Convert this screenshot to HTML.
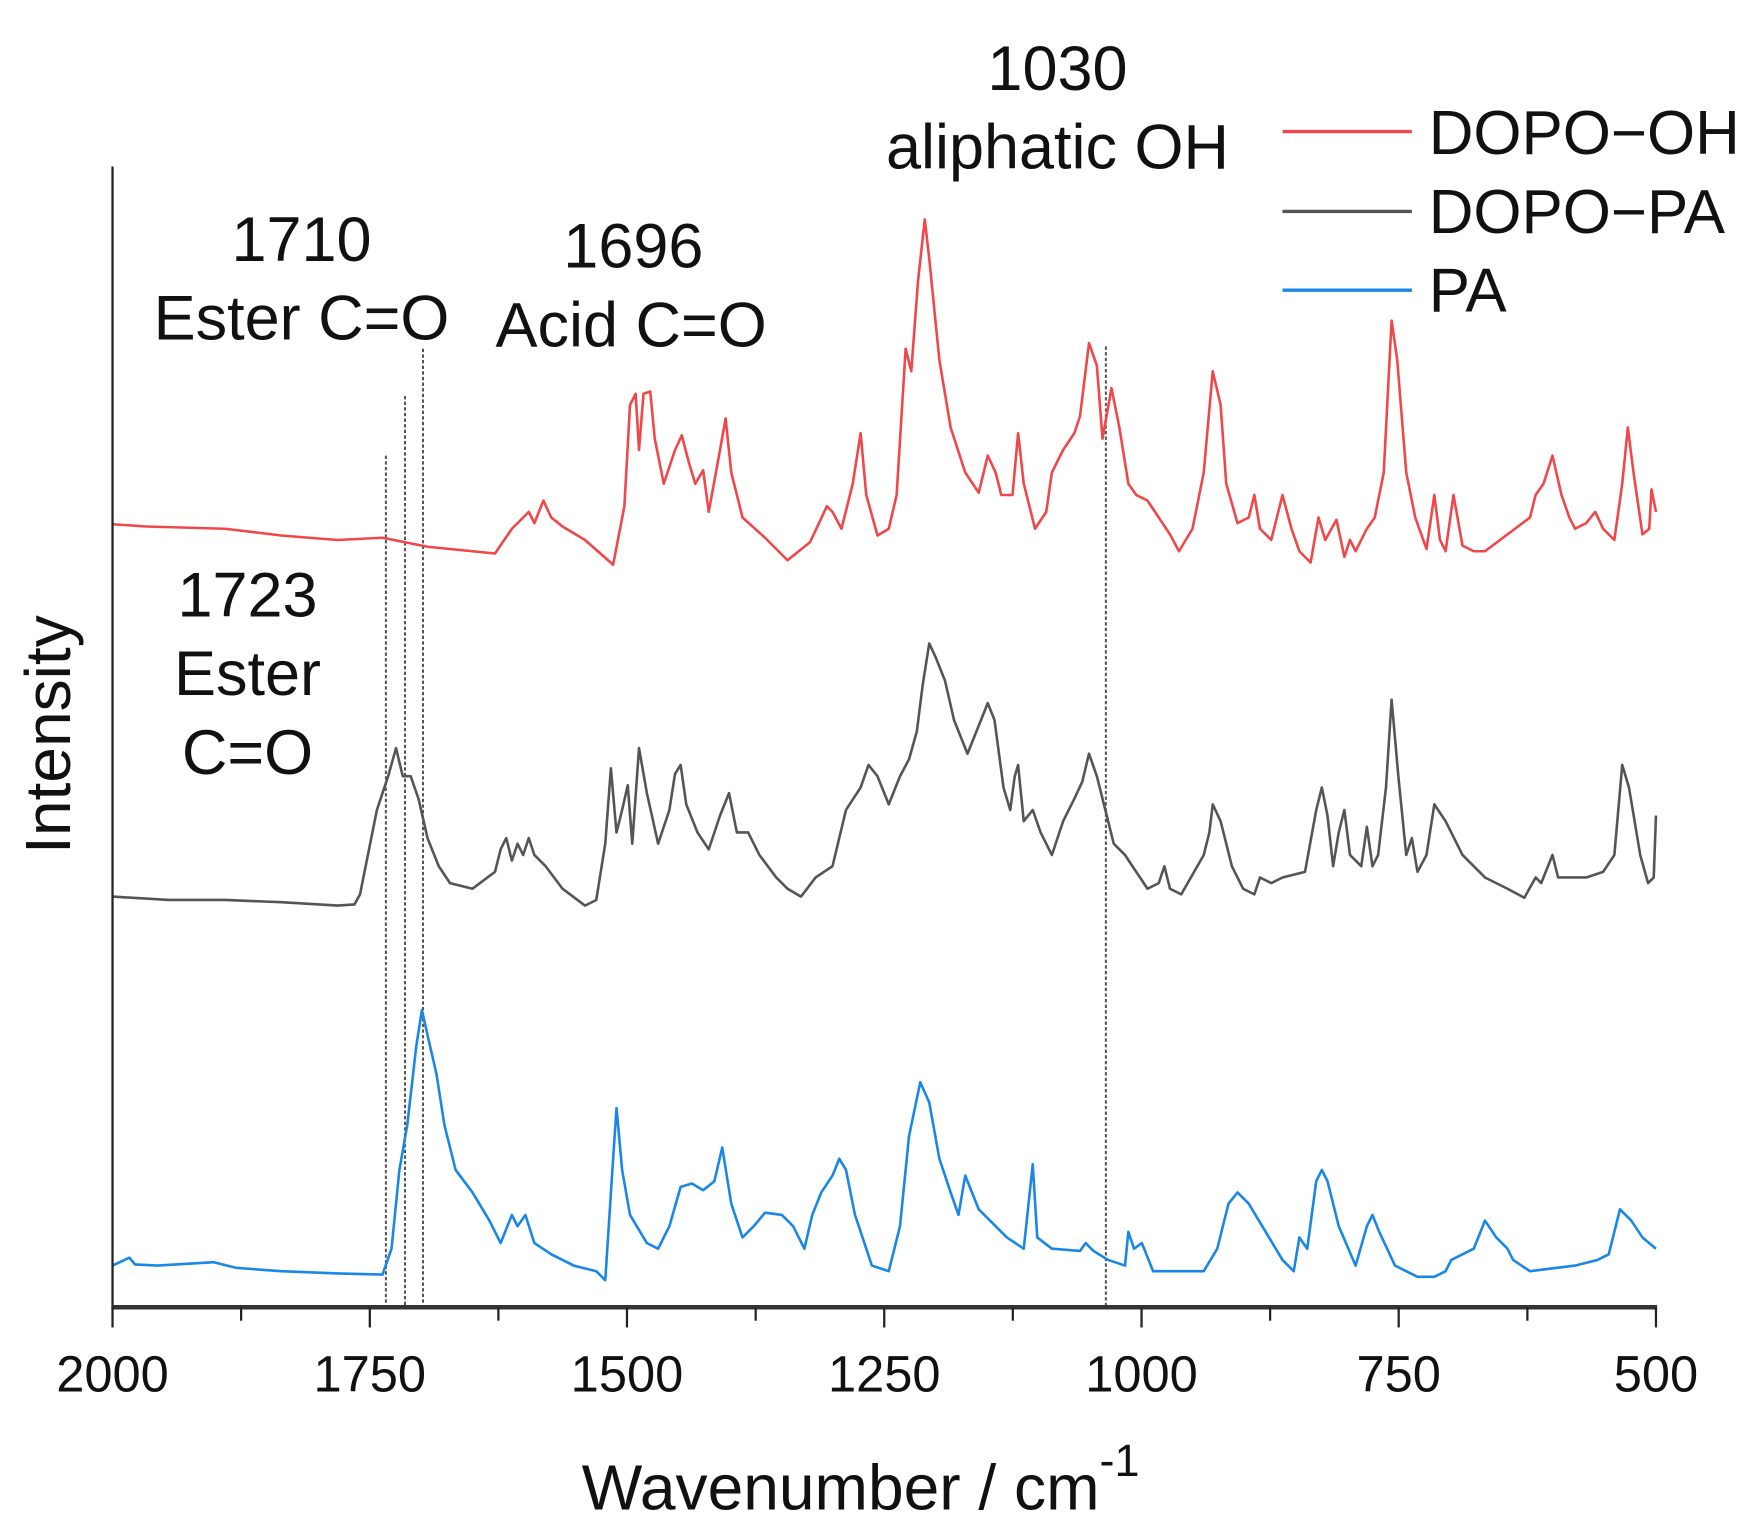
<!DOCTYPE html>
<html><head><meta charset="utf-8"><style>
html,body{margin:0;padding:0;background:#fff;}
svg{display:block;}
text{font-family:"Liberation Sans",Arial,sans-serif;fill:#111;}
</style></head><body>
<svg width="1755" height="1525" viewBox="0 0 1560 1355.6" xmlns="http://www.w3.org/2000/svg">
<g stroke="#555" stroke-width="1.8" stroke-dasharray="3,2" fill="none">
<line x1="343" y1="405" x2="343" y2="1160"/>
<line x1="360" y1="352" x2="360" y2="1160"/>
<line x1="376" y1="310" x2="376" y2="1160"/>
<line x1="983" y1="308" x2="983" y2="1160"/>
</g>
<polyline fill="none" stroke="#f0474a" stroke-width="2.3" stroke-linejoin="round" points="100,466 130,468 200,470 250,476 300,480 340,478 380,486 440,492 455,470 465,460 470,455 475,465 483,445 490,460 500,468 520,480 545,502 555,450 560,360 565,350 568,400 572,350 578,348 582,390 590,430 600,400 606,387 612,410 618,430 625,418 630,455 640,400 645,372 650,420 660,460 680,478 700,498 720,482 735,450 740,455 748,470 758,430 765,385 770,440 780,476 790,470 797,440 805,310 810,330 816,250 822,195 826,230 835,320 845,380 858,420 870,438 878,405 885,420 890,440 900,440 905,385 910,430 920,470 930,455 935,420 945,400 955,385 960,370 968,305 975,325 980,390 988,345 995,380 1003,430 1010,440 1020,445 1040,475 1048,490 1060,470 1070,420 1078,330 1085,360 1090,430 1100,465 1110,460 1115,440 1120,470 1130,480 1140,440 1148,470 1155,490 1165,500 1172,460 1178,480 1188,462 1195,495 1200,480 1205,490 1215,470 1222,460 1230,420 1237,285 1242,320 1250,420 1258,460 1268,488 1275,440 1280,480 1285,490 1292,440 1300,485 1310,490 1320,490 1340,475 1360,460 1365,440 1372,430 1380,405 1388,440 1395,460 1400,470 1410,465 1418,455 1425,470 1435,480 1442,430 1447,380 1452,420 1460,475 1466,470 1468,435 1472,455"/>
<polyline fill="none" stroke="#555" stroke-width="2.3" stroke-linejoin="round" points="100,797 150,800 200,800 250,802 300,805 315,804 320,795 325,770 335,720 345,690 352,665 358,690 365,690 372,710 380,745 390,770 400,785 420,790 440,775 445,755 450,745 455,765 460,750 465,760 470,745 475,760 485,770 500,790 520,805 530,800 538,750 543,683 548,740 553,720 558,698 562,750 568,665 575,705 585,750 595,720 600,688 605,680 610,715 620,740 630,755 640,725 648,705 655,740 665,740 675,760 690,780 700,790 712,797 725,780 740,770 752,720 765,700 772,680 780,690 790,715 800,690 808,675 815,650 820,610 826,572 832,585 840,605 848,640 860,670 870,645 878,625 884,640 892,700 898,720 902,690 905,680 910,730 918,720 925,740 935,760 945,730 955,710 962,695 968,670 975,690 990,750 1000,760 1010,775 1020,790 1030,785 1035,770 1040,790 1050,795 1070,760 1075,740 1078,715 1085,730 1095,770 1105,790 1115,795 1120,780 1130,785 1140,780 1160,775 1170,720 1175,700 1180,725 1185,770 1190,740 1195,720 1200,760 1210,770 1215,735 1220,770 1225,760 1232,700 1237,622 1243,690 1250,760 1255,745 1260,775 1268,760 1275,715 1285,730 1300,760 1320,780 1340,790 1355,798 1365,780 1370,785 1380,760 1385,780 1395,780 1410,780 1425,775 1435,760 1442,680 1448,700 1458,760 1465,785 1470,780 1472,725"/>
<polyline fill="none" stroke="#1a87e6" stroke-width="2.3" stroke-linejoin="round" points="100,1125 115,1118 120,1124 140,1125 190,1122 210,1127 250,1130 300,1132 340,1133 348,1110 355,1040 362,1000 370,930 375,898 380,920 388,955 395,1000 405,1040 420,1060 435,1085 445,1105 455,1080 460,1090 467,1080 475,1105 490,1115 510,1125 530,1130 538,1138 545,1030 548,985 553,1040 560,1080 575,1105 585,1110 595,1090 605,1055 615,1052 625,1058 635,1050 642,1020 650,1070 660,1100 670,1090 680,1078 695,1080 705,1090 715,1110 722,1080 730,1060 740,1045 746,1030 752,1040 760,1080 775,1125 790,1130 800,1090 808,1010 818,962 826,980 835,1030 845,1060 852,1080 858,1045 862,1055 870,1075 880,1085 895,1100 910,1110 918,1035 922,1100 935,1110 960,1112 965,1105 972,1112 985,1120 1000,1125 1003,1095 1008,1110 1015,1105 1025,1130 1040,1130 1070,1130 1082,1110 1092,1070 1100,1060 1110,1070 1125,1095 1140,1120 1150,1130 1155,1100 1162,1110 1170,1050 1175,1040 1180,1050 1190,1090 1205,1125 1215,1090 1220,1080 1226,1095 1240,1125 1260,1135 1275,1135 1285,1130 1290,1120 1300,1115 1310,1110 1320,1085 1330,1100 1340,1110 1345,1120 1360,1130 1400,1125 1420,1120 1430,1115 1440,1075 1450,1085 1460,1100 1472,1110"/>
<line x1="100" y1="148" x2="100" y2="1163" stroke="#222" stroke-width="2"/>
<line x1="99" y1="1162" x2="1473" y2="1162" stroke="#333" stroke-width="4"/>
<g stroke="#222" stroke-width="2">
<line x1="100" y1="1162" x2="100" y2="1180"/><line x1="214.3" y1="1162" x2="214.3" y2="1174"/>
<line x1="328.7" y1="1162" x2="328.7" y2="1180"/><line x1="443" y1="1162" x2="443" y2="1174"/>
<line x1="557.3" y1="1162" x2="557.3" y2="1180"/><line x1="671.7" y1="1162" x2="671.7" y2="1174"/>
<line x1="786" y1="1162" x2="786" y2="1180"/><line x1="900.3" y1="1162" x2="900.3" y2="1174"/>
<line x1="1014.7" y1="1162" x2="1014.7" y2="1180"/><line x1="1129" y1="1162" x2="1129" y2="1174"/>
<line x1="1243.3" y1="1162" x2="1243.3" y2="1180"/><line x1="1357.7" y1="1162" x2="1357.7" y2="1174"/>
<line x1="1472" y1="1162" x2="1472" y2="1180"/>
</g>
<g font-size="45" text-anchor="middle">
<text x="100" y="1237">2000</text><text x="328.7" y="1237">1750</text><text x="557.3" y="1237">1500</text>
<text x="786" y="1237">1250</text><text x="1014.7" y="1237">1000</text><text x="1243.3" y="1237">750</text>
<text x="1472" y="1237">500</text>
</g>
<text x="765" y="1342" font-size="57" text-anchor="middle">Wavenumber / cm<tspan font-size="40" dy="-30">-1</tspan></text>
<text transform="translate(62,653) rotate(-90)" font-size="57" text-anchor="middle">Intensity</text>
<g font-size="56" text-anchor="middle">
<text x="940" y="80">1030</text><text x="940" y="150">aliphatic OH</text>
<text x="268" y="232">1710</text><text x="268" y="302">Ester C=O</text>
<text x="563" y="238">1696</text><text x="561" y="308">Acid C=O</text>
<text x="220" y="548">1723</text><text x="220" y="618">Ester</text><text x="220" y="688">C=O</text>
</g>
<line x1="1140" y1="117" x2="1255" y2="117" stroke="#f0474a" stroke-width="3"/>
<line x1="1140" y1="188" x2="1255" y2="188" stroke="#555" stroke-width="3"/>
<line x1="1140" y1="258" x2="1255" y2="258" stroke="#1a87e6" stroke-width="3"/>
<g font-size="55">
<text x="1270" y="137">DOPO−OH</text><text x="1270" y="207">DOPO−PA</text><text x="1270" y="277">PA</text>
</g>
</svg>
</body></html>
